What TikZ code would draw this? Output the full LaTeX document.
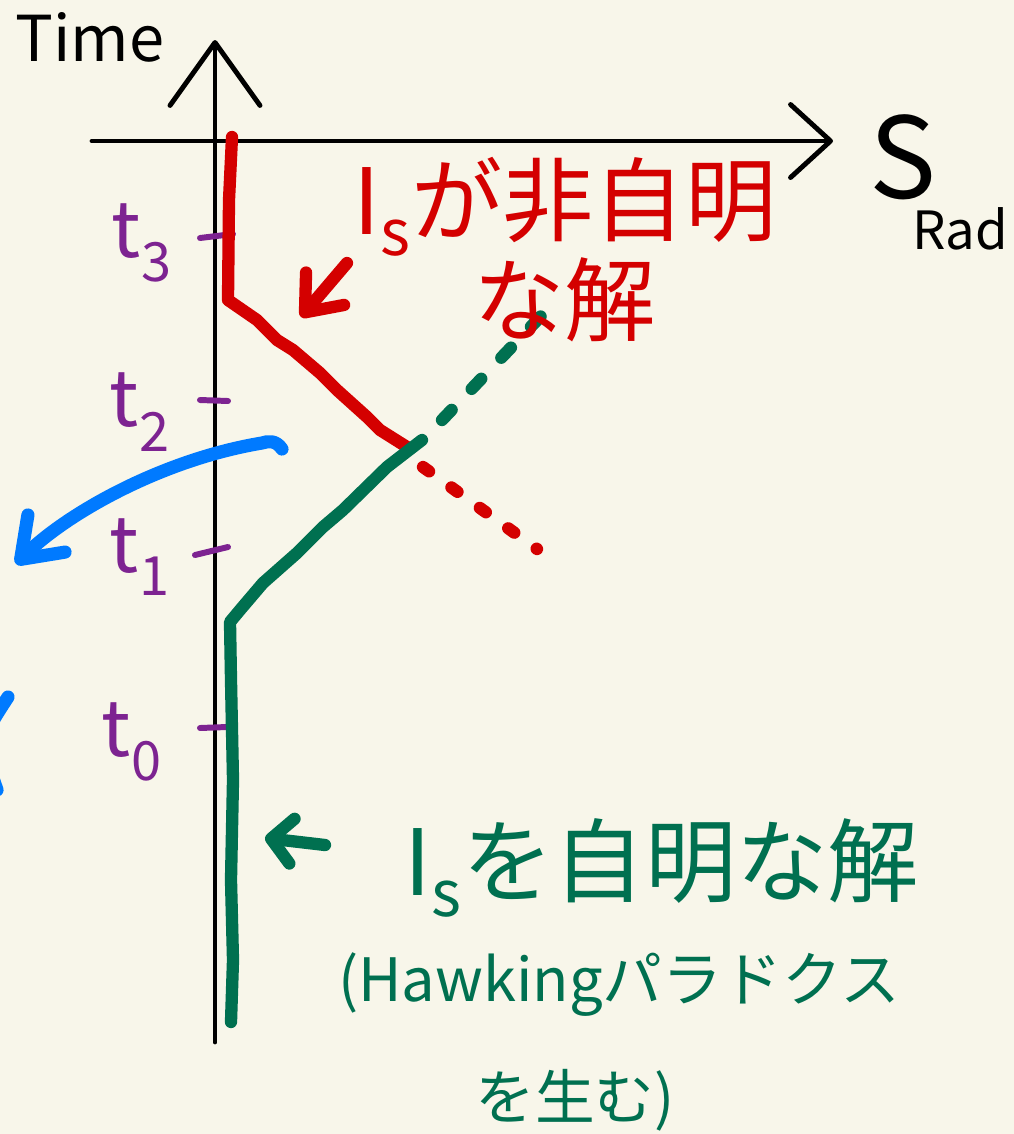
\documentclass[tikz,border=0pt]{standalone}
\usepackage{fontspec}
\setmainfont{Noto Sans CJK JP}
\usetikzlibrary{arrows.meta}

\definecolor{paper}{RGB}{248,246,234}
\definecolor{inkred}{RGB}{212,0,0}
\definecolor{inkgreen}{RGB}{0,112,80}
\definecolor{inkblue}{RGB}{0,122,255}
\definecolor{inkpurple}{RGB}{125,35,145}

\begin{document}
\begin{tikzpicture}[
    x=0.02cm, y=-0.02cm,
    line cap=round, line join=round,
    axis/.style={draw=black, line width=2.8pt},
    redink/.style={draw=inkred, line width=7pt},
    greenink/.style={draw=inkgreen, line width=7pt},
    blueink/.style={draw=inkblue, line width=7.5pt},
    tickmark/.style={draw=inkpurple, line width=3.4pt},
    tlabel/.style={text=inkpurple, font=\fontsize{44}{44}\selectfont}
]
    \useasboundingbox (0,0) rectangle (1014,1134);
    \fill[paper] (0,0) rectangle (1014,1134);

    % axes
    \coordinate (tbottom) at (215,1042);
    \coordinate (ttop) at (215,40);
    \coordinate (sleft) at (92,141);
    \coordinate (sright) at (833,141);
    \draw[axis, -{Straight Barb[round, length=1.26cm, width=1.8cm]}] (tbottom) -- (ttop);
    \draw[axis, -{Straight Barb[round, length=0.8cm, width=1.46cm]}] (sleft) -- (sright);

    \node[font=\fontsize{36}{36}\selectfont] (time) at (90,37) {Time};
    \node[font=\fontsize{64}{64}\selectfont] (srad) at (903,157) {S};
    \node[font=\fontsize{30}{30}\selectfont] (rad) at (960,229) {Rad};

    % time ticks
    \draw[tickmark] (200,238) -- (233,234);
    \draw[tickmark] (200,400) -- (228,401);
    \draw[tickmark] (195,555) -- (228,547);
    \draw[tickmark] (200,728) -- (227,727);
    \node[tlabel] (t3) at (142,243) {t\textsubscript{3}};
    \node[tlabel] (t2) at (140,412) {t\textsubscript{2}};
    \node[tlabel] (t1) at (140,557) {t\textsubscript{1}};
    \node[tlabel] (t0) at (132,742) {t\textsubscript{0}};

    % red branch
    \draw[redink] (232,137) -- (229,200) -- (228,300) -- (257,320) -- (277,340) -- (293,350) -- (320,373) -- (337,390) -- (367,417) -- (380,430) -- (407,447);
    \draw[redink, dash pattern=on 0.15cm off 0.55cm] (423,467) -- (537,549);

    % green branch
    \draw[greenink] (231,1022) -- (233,960) -- (231,880) -- (233,780) -- (231,680) -- (230,622) -- (240,610) -- (263,583) -- (297,553) -- (323,527) -- (343,510) -- (387,467) -- (422,440);
    \draw[greenink, dash pattern=on 0.28cm off 0.58cm] (442,420) -- (542,315);

    % labels
    \node[text=inkred, font=\fontsize{52}{57}\selectfont, align=center] (nontrivial) at (565,250) {I\textsubscript{s}が非自明\\な解};
    \node[text=inkgreen, font=\fontsize{52}{52}\selectfont] (trivial) at (662,868) {I\textsubscript{s}を自明な解};
    \node[text=inkgreen, font=\fontsize{34}{34}\selectfont] (paradox) at (619,985) {(Hawkingパラドクス};
    \node[text=inkgreen, font=\fontsize{34}{34}\selectfont] (gives) at (575,1100) {を生む)};

    % pointers
    \coordinate (rtail) at (347,263);
    \coordinate (rhead) at (301,317);
    \draw[redink, -{Straight Barb[round, length=0.62cm, width=1cm]}] (rtail) -- (rhead);

    \coordinate (gtail) at (325,845);
    \coordinate (ghead) at (265,838);
    \draw[greenink, -{Straight Barb[round, length=0.42cm, width=0.9cm]}] (gtail) -- (ghead);

    \coordinate (btail) at (282,449);
    \coordinate (bhead) at (16,564);
    \draw[blueink, -{Straight Barb[round, length=0.73cm, width=1.05cm]}] (btail) .. controls (276,440) and (268,441) .. (262,443) .. controls (160,460) and (65,515) .. (bhead);
    \draw[blueink] (8,697) .. controls (-20,740) .. (-3,790);
\end{tikzpicture}
\end{document}
